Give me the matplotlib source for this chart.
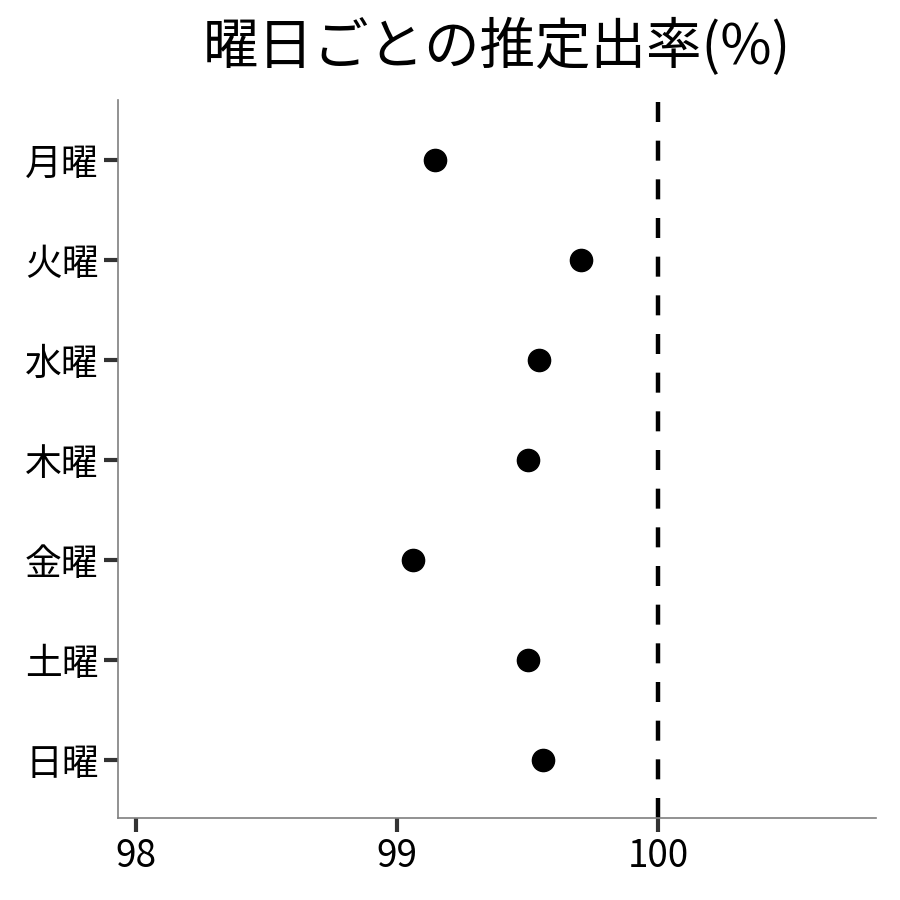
import matplotlib
matplotlib.use("Agg")
import matplotlib.pyplot as plt

plt.rcParams['font.family'] = ['Noto Sans CJK JP', 'DejaVu Sans']

days = ["月曜", "火曜", "水曜", "木曜", "金曜", "土曜", "日曜"]
rates = [99.145, 99.705, 99.545, 99.50, 99.06, 99.50, 99.557]
xticks = [98, 99, 100]
ref_line = 100
title = "曜日ごとの推定出率(%)"

fig = plt.figure(figsize=(9, 9), dpi=100)
ax = fig.add_axes([118/900, 82/900, (876-118)/900, (818-100)/900])

ypos = list(range(len(days), 0, -1))
ax.plot(rates, ypos, 'o', color='black', markersize=16, linestyle='none', zorder=3)
ax.axvline(ref_line, color='black', linestyle=(0, (4.5, 4.2)), linewidth=3.2, zorder=2)

ax.set_xlim(97.93, 100.835)
ax.set_ylim(0.42, 7.6)
ax.set_xticks(xticks)
ax.set_xticklabels([str(v) for v in xticks])
ax.set_yticks(ypos)
ax.set_yticklabels(days)

for s in ['top', 'right']:
    ax.spines[s].set_visible(False)
for s in ['left', 'bottom']:
    ax.spines[s].set_color('#7f7f7f')
    ax.spines[s].set_linewidth(1.2)

ax.tick_params(axis='both', length=10, width=3, color='#333333', labelsize=26.5, labelcolor='black', pad=4)
ax.set_title(title, fontsize=40, pad=26)

fig.savefig("out.png", dpi=100, facecolor='white')
